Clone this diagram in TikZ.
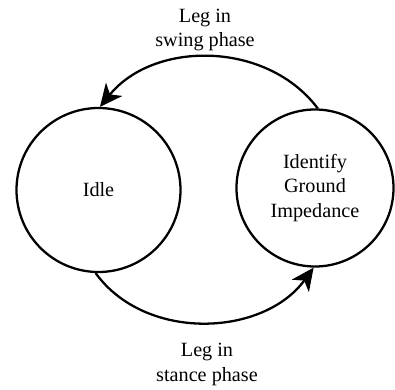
\documentclass[tikz,border=0pt]{standalone}
\usepackage{fontspec}
\setmainfont{Liberation Serif}
\usepackage{tikz}
\usetikzlibrary{arrows.meta,positioning}

\begin{document}
\begin{tikzpicture}[every node/.style={font=\fontsize{11.5}{14.2}\selectfont},
    state/.style={circle,draw,line width=1.3pt,inner sep=0pt},
    trans/.style={line width=1.3pt,-{Stealth[length=0.45cm,width=0.42cm,inset=0.13cm]}}]
        \useasboundingbox (0,0) rectangle (7.9,7.78);
        \node[state,minimum size=3.28cm] (idle) at (1.97,3.98) {Idle};
        \node[state,minimum size=3.14cm,align=center] (ident) at (6.30,4.02)
          {Identify\\Ground\\Impedance};
        \draw[trans] (ident.88) to[out=127,in=51] (idle.89);
        \draw[trans] (idle.-92) to[out=-54,in=-126] (ident.-91);
        \node[align=center] (swing) at (4.1,7.18) {Leg in\\swing phase};
        \node[align=center] (stance) at (4.14,0.5) {Leg in\\stance phase};
      \end{tikzpicture}
\end{document}
